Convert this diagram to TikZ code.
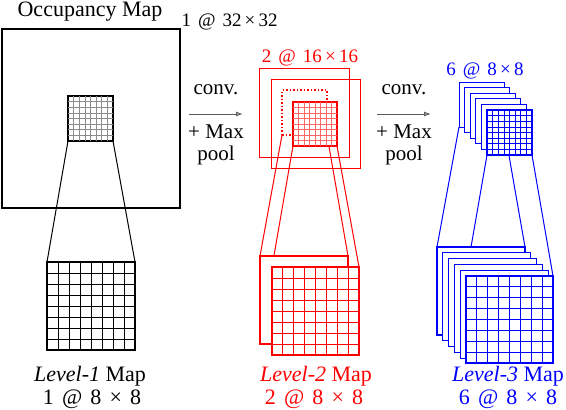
\documentclass[tikz,border=0pt]{standalone}
\usepackage{fontspec}
\setmainfont{Liberation Serif}
\newfontfamily\mapfont{Liberation Serif}
\usetikzlibrary{calc, arrows.meta, backgrounds}

\tikzset{
  plane/.style={draw=#1, inner sep=0pt, outer sep=0pt, anchor=north west},
  plane/.default=black,
  smallmap/.style={plane=#1, fill=white, minimum width=45pt, minimum height=45pt},
  smallmap/.default=black,
  bigmap/.style={plane=#1, fill=white, line width=1.3pt, minimum width=88pt, minimum height=88pt},
  bigmap/.default=black,
  link/.style={draw=#1, line width=1pt},
  lbl/.style={inner sep=0pt, font=\mapfont\fontsize{22}{26}\selectfont},
  oplbl/.style={inner sep=0pt, font=\mapfont\fontsize{21}{24}\selectfont},
  dimlbl/.style={inner sep=0pt, font=\mapfont\fontsize{19}{22}\selectfont},
  flow/.style={draw=black!65, line width=1pt, -{Latex[open, length=7pt, width=5pt]}},
}

% inner 8x8 cell lines of a map node
\newcommand{\cellgrid}[2]{%
  \foreach \k in {1,...,7} {
    \draw[#2] ($(#1.north west)!\k/8!(#1.north east)$) -- ($(#1.south west)!\k/8!(#1.south east)$);
    \draw[#2] ($(#1.north west)!\k/8!(#1.south west)$) -- ($(#1.north east)!\k/8!(#1.south east)$);
  }%
}
\newcommand{\sep}{\hspace{0.37em}}

\begin{document}
\begin{tikzpicture}[x=1pt, y=-1pt, line width=1pt]
  \useasboundingbox (0,0) rectangle (566,410);

  % Occupancy map (level 1)
  \node[plane, line width=1.2pt, minimum width=178pt, minimum height=179pt] (occ) at (2,29) {};
  \node[lbl] (occtxt) at (90,12) {Occupancy Map};
  \node[dimlbl, anchor=west] (occdim) at (181,22) {1\sep@\sep32\,×\,32};
  \node[smallmap, line width=1.1pt] (k1) at (68,96) {};
  \cellgrid{k1}{black!45, line width=0.6pt}
  \node[bigmap] (K1) at (47,262) {};
  \cellgrid{K1}{black, line width=0.8pt}
  \begin{scope}[on background layer]
    \draw[link=black] (k1.south west) -- (K1.north west);
    \draw[link=black] (k1.south east) -- (K1.north east);
  \end{scope}
  \node[lbl] (t1a) at (90,376) {\textit{Level-1} Map};
  \node[lbl] (t1b) at (92,399) {1\sep@\sep8\sep×\sep8};

  % conv + pooling arrows
  \foreach \x [count=\i] in {216,404} {
    \node[oplbl] (cv\i) at (\x,90) {conv.};
    \coordinate (as\i) at (\x-27,114);
    \coordinate (ae\i) at (\x+27,114);
    \draw[flow] (as\i) -- (ae\i);
    \node[oplbl] (mx\i) at (\x,132) {+ Max};
    \node[oplbl] (pl\i) at (\x,155) {pool};
  }

  % level 2 (red)
  \node[dimlbl, red] (rdim) at (310,58) {2\sep@\sep16\,×\,16};
  \node[plane=red, minimum width=90pt, minimum height=89pt] (r1) at (259,68) {};
  \node[plane=red, minimum width=89pt, minimum height=89pt] (r2) at (271,79) {};
  \node[plane=red, dotted, line width=1.5pt, minimum width=45pt, minimum height=45pt] (rdot) at (282,90) {};
  \node[smallmap=red, line width=1.1pt, minimum width=44pt, minimum height=44pt] (k2) at (293,102) {};
  \cellgrid{k2}{red!60, line width=0.6pt}
  \node[bigmap=red] (R1) at (260,256) {};
  \node[bigmap=red, minimum width=87pt] (K2) at (272,267) {};
  \cellgrid{K2}{red, line width=0.8pt}
  \begin{scope}[on background layer]
    \draw[link=red] (rdot.south west) -- (R1.north west);
    \draw[link=red] (rdot.south east) -- (R1.north east);
    \draw[link=red] (k2.south west) -- (K2.north west);
    \draw[link=red] (k2.south east) -- (K2.north east);
  \end{scope}
  \node[lbl, red] (t2a) at (316,376) {\textit{Level-2} Map};
  \node[lbl, red] (t2b) at (314,399) {2\sep@\sep8\sep×\sep8};

  % level 3 (blue)
  \node[dimlbl, blue] (bdim) at (485,71) {6\sep@\sep8\,×\,8};
  \foreach \i in {0,...,4}
    \node[smallmap=blue] (b\i) at (459+5.6*\i,82+5.6*\i) {};
  \node[smallmap=blue, line width=1.1pt] (k3) at (487,110) {};
  \cellgrid{k3}{blue, line width=0.6pt}
  \foreach \i in {0,...,4}
    \node[bigmap=blue] (B\i) at (437+5.8*\i,247+5.8*\i) {};
  \node[bigmap=blue, minimum width=87pt, minimum height=87pt] (K3) at (466,276) {};
  \cellgrid{K3}{blue, line width=0.8pt}
  \begin{scope}[on background layer]
    \draw[link=blue] (b0.south west) -- (B0.north west);
    \draw[link=blue] (b0.south east) -- (B0.north east);
    \draw[link=blue] (k3.south west) -- (K3.north west);
    \draw[link=blue] (k3.south east) -- (K3.north east);
  \end{scope}
  \node[lbl, blue] (t3a) at (508,376) {\textit{Level-3} Map};
  \node[lbl, blue] (t3b) at (508,399) {6\sep@\sep8\sep×\sep8};
\end{tikzpicture}
\end{document}
